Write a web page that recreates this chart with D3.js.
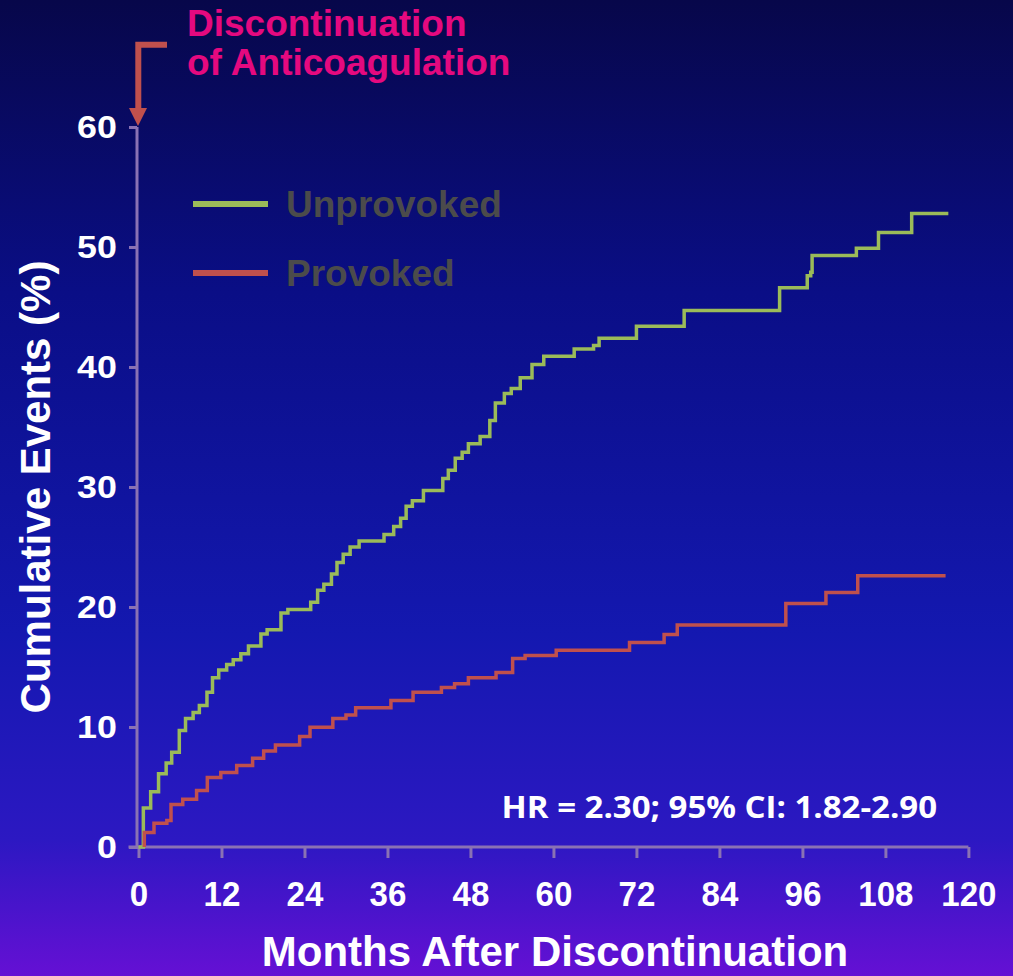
<!DOCTYPE html>
<html>
<head>
<meta charset="utf-8">
<script src="https://cdn.jsdelivr.net/npm/d3@7"></script>
<style>
  html, body { margin: 0; padding: 0; background: #0b0b5a; }
  svg { display: block; }
</style>
</head>
<body>
<div id="chart"></div>
<script>
// step data (month, cumulative %)
const unprovokedMonths = [0, 0.7, 1.76, 2.9, 4.0, 4.8, 5.9, 6.8, 7.9, 8.8, 9.9, 10.7, 11.6, 12.75, 13.7, 14.8, 15.9, 17.7, 18.6, 20.6, 21.6, 24.9, 25.9, 26.8, 27.9, 28.7, 29.6, 30.6, 31.9, 35.5, 36.9, 37.9, 38.7, 39.6, 41.2, 44.0, 44.8, 45.8, 46.8, 47.7, 49.4, 50.8, 51.6, 52.9, 53.9, 55.2, 56.9, 58.6, 63.0, 65.8, 66.6, 72.0, 78.9, 92.7, 96.7, 97.2, 97.4, 103.8, 107.0, 111.8, 117.1];
const unprovokedValues = [0, 3.25, 4.6, 6.1, 7.0, 7.9, 9.7, 10.7, 11.2, 11.8, 12.9, 14.1, 14.75, 15.2, 15.6, 16.1, 16.75, 17.75, 18.1, 19.5, 19.8, 20.4, 21.4, 21.9, 22.75, 23.7, 24.4, 25.0, 25.5, 26.05, 26.7, 27.4, 28.4, 28.85, 29.7, 30.7, 31.4, 32.4, 32.9, 33.6, 34.2, 35.55, 37.0, 37.8, 38.2, 39.1, 40.2, 40.9, 41.5, 41.8, 42.4, 43.4, 44.7, 46.6, 47.6, 47.9, 49.3, 49.9, 51.2, 52.8, 52.8];

const provokedMonths = [0.84, 0.84, 2.24, 4.1, 4.7, 6.4, 8.4, 9.95, 11.9, 14.2, 16.5, 18.1, 19.8, 23.3, 24.8, 28.1, 30.0, 31.4, 36.5, 39.7, 43.8, 45.7, 47.7, 51.7, 54.1, 55.9, 60.4, 71.0, 76.0, 77.9, 93.6, 99.4, 104.0, 116.7];
const provokedValues = [0, 1.2, 1.97, 2.2, 3.55, 3.97, 4.7, 5.8, 6.2, 6.8, 7.4, 8.0, 8.5, 9.2, 9.97, 10.7, 11.0, 11.6, 12.2, 12.9, 13.3, 13.6, 14.1, 14.55, 15.7, 15.95, 16.4, 17.05, 17.7, 18.5, 20.3, 21.2, 22.6, 22.6];

const xTicks = [0, 12, 24, 36, 48, 60, 72, 84, 96, 108, 120];
const yTicks = [0, 10, 20, 30, 40, 50, 60];
const seriesNames = ['Unprovoked', 'Provoked'];
const seriesColors = ['#9bbb59', '#c0504d'];

const W = 1013, H = 976;
const svg = d3.select('#chart').append('svg').attr('width', W).attr('height', H);

// background gradient
const defs = svg.append('defs');
const grad = defs.append('linearGradient').attr('id', 'bg').attr('x1', 0).attr('y1', 0).attr('x2', 0).attr('y2', 1);
[['0%', '#07074a'], ['30%', '#0a0e86'], ['65%', '#1418b0'], ['86%', '#2c18c2'], ['100%', '#6510d4']]
  .forEach(s => grad.append('stop').attr('offset', s[0]).attr('stop-color', s[1]));
svg.append('rect').attr('width', W).attr('height', H).attr('fill', 'url(#bg)');

const x = d3.scaleLinear().domain([0, 120]).range([138.5, 968.4]);
const y = d3.scaleLinear().domain([0, 60]).range([847, 127]);
const axisColor = '#8a72b4';
const font = 'Liberation Sans, Arial, sans-serif';

// x axis
const xAxis = svg.append('g').attr('transform', 'translate(0,847)')
  .call(d3.axisBottom(x).tickValues(xTicks).tickSize(11).tickPadding(22).tickFormat(d3.format('d')));
xAxis.select('.domain').attr('d', `M${x(0) - 10},0H${x(120)}`).attr('stroke', axisColor).attr('stroke-width', 3);
xAxis.selectAll('.tick line').attr('stroke', axisColor).attr('stroke-width', 3);
xAxis.selectAll('.tick text')
  .attr('fill', '#fff').attr('font-family', font).attr('font-weight', 'bold').attr('font-size', 36)
  .attr('transform', 'scale(0.92,1)');

// y axis
const yAxis = svg.append('g').attr('transform', `translate(${x(0) - 1.5},0)`)
  .call(d3.axisLeft(y).tickValues(yTicks).tickSize(8).tickPadding(10).tickFormat(d3.format('d')));
yAxis.select('.domain').attr('d', `M0,${y(60)}V${y(0) + 2}`).attr('stroke', axisColor).attr('stroke-width', 3);
yAxis.selectAll('.tick line').attr('stroke', axisColor).attr('stroke-width', 3);
yAxis.selectAll('.tick text')
  .attr('fill', '#fff').attr('font-family', font).attr('font-weight', 'bold').attr('font-size', 32)
  .attr('transform', 'scale(1.12,1)');

// axis titles
svg.append('text').attr('x', 555).attr('y', 966).attr('text-anchor', 'middle')
  .attr('fill', '#fff').attr('font-family', font).attr('font-weight', 'bold').attr('font-size', 42)
  .text('Months After Discontinuation');
svg.append('text').attr('transform', 'translate(50,487) rotate(-90)').attr('text-anchor', 'middle')
  .attr('fill', '#fff').attr('font-family', font).attr('font-weight', 'bold').attr('font-size', 42)
  .text('Cumulative Events (%)');

// step curves
const line = d3.line().x(d => x(d[0])).y(d => y(d[1])).curve(d3.curveStepAfter);
const series = [
  d3.zip(unprovokedMonths, unprovokedValues),
  d3.zip(provokedMonths, provokedValues)
];
svg.selectAll('.curve').data(series).join('path').attr('class', 'curve')
  .attr('d', line).attr('fill', 'none')
  .attr('stroke', (d, i) => seriesColors[i]).attr('stroke-width', 3.5);

// legend
seriesNames.forEach((name, i) => {
  const ly = 204 + i * 69;
  svg.append('line').attr('x1', 193).attr('x2', 268).attr('y1', ly).attr('y2', ly)
    .attr('stroke', seriesColors[i]).attr('stroke-width', 6);
  svg.append('text').attr('x', 286).attr('y', ly + 13)
    .attr('fill', '#4b4b4b').attr('font-family', font).attr('font-weight', 'bold').attr('font-size', 37)
    .text(name);
});

// HR annotation
svg.append('text').attr('transform', 'translate(937,818) scale(1.1,1)').attr('text-anchor', 'end')
  .attr('fill', '#fff').attr('font-family', 'Open Sans, sans-serif').attr('font-weight', 'bold').attr('font-size', 30)
  .text('HR = 2.30; 95% CI: 1.82-2.90');

// discontinuation arrow + label
svg.append('path').attr('d', 'M167,44.7H138.3V110').attr('fill', 'none')
  .attr('stroke', '#c0504d').attr('stroke-width', 6);
svg.append('path').attr('d', 'M129,108L147,108L138,126Z').attr('fill', '#c0504d');
const lab = svg.append('text').attr('fill', '#e5097f')
  .attr('font-family', font).attr('font-weight', 'bold').attr('font-size', 37);
lab.append('tspan').attr('x', 187).attr('y', 36).text('Discontinuation');
lab.append('tspan').attr('x', 187).attr('y', 75).text('of Anticoagulation');
</script>
</body>
</html>
